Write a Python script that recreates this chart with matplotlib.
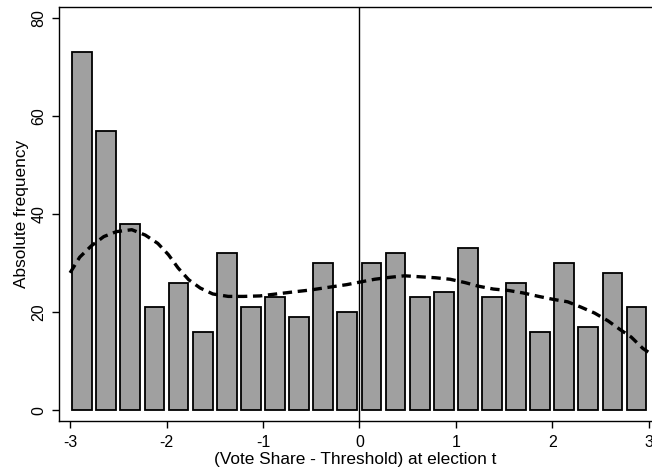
import numpy as np
import matplotlib
matplotlib.use("Agg")
import matplotlib.pyplot as plt

plt.rcParams['font.family'] = ['Liberation Sans', 'DejaVu Sans']
plt.rcParams['axes.unicode_minus'] = False

# histogram bins (width 0.25) and counts
bin_left = [-3.0, -2.75, -2.5, -2.25, -2.0, -1.75, -1.5, -1.25, -1.0, -0.75, -0.5, -0.25,
            0.0, 0.25, 0.5, 0.75, 1.0, 1.25, 1.5, 1.75, 2.0, 2.25, 2.5, 2.75]
counts = [73, 57, 38, 21, 26, 16, 32, 21, 23, 19, 30, 20,
          30, 32, 23, 24, 33, 23, 26, 16, 30, 17, 28, 21]

# kernel density (scaled to frequency)
kde_x = [-3.0, -2.9, -2.78, -2.65, -2.52, -2.36, -2.22, -2.09, -1.98, -1.88, -1.77, -1.65,
         -1.52, -1.36, -1.2, -1.03, -0.86, -0.69, -0.51, -0.34, -0.13, 0.0, 0.16, 0.32,
         0.47, 0.63, 0.79, 0.94, 1.1, 1.23, 1.39, 1.55, 1.7, 1.86, 2.01, 2.16, 2.3, 2.44,
         2.58, 2.7, 2.82, 2.94, 3.0]
kde_y = [28.0, 31.2, 33.5, 35.4, 36.4, 36.8, 35.7, 34.0, 31.7, 29.0, 26.6, 24.9,
         23.7, 23.2, 23.2, 23.3, 23.7, 24.1, 24.5, 25.0, 25.6, 26.1, 26.7, 27.1,
         27.4, 27.2, 27.0, 26.7, 26.0, 25.3, 24.7, 24.4, 23.9, 23.2, 22.6, 22.1, 21.0, 19.8,
         18.2, 16.5, 14.9, 12.6, 11.8]

fig = plt.figure(figsize=(6.52, 4.71), dpi=100)
ax = fig.add_axes([59 / 652, 50 / 471, 593 / 652, 414 / 471])

centers = np.array(bin_left) + 0.125
ax.bar(centers, counts, width=0.205, color='#a0a0a0', edgecolor='black', linewidth=1.3, zorder=2)
ax.axvline(0, color='black', linewidth=1.0, zorder=3)
ax.plot(kde_x, kde_y, color='black', linewidth=2.4, dashes=(2.8, 1.7), zorder=4)

ax.set_xlim(-3.115, 3.035)
ax.set_ylim(-2.2, 82.2)
ax.set_xticks([-3, -2, -1, 0, 1, 2, 3])
ax.set_yticks([0, 20, 40, 60, 80])
ax.tick_params(axis='both', direction='out', length=5, width=1, labelsize=11.5, pad=4)
ax.tick_params(axis='x', pad=5)
for lbl in ax.get_yticklabels():
    lbl.set_rotation(90)
    lbl.set_va('center')
ax.set_xlabel("(Vote Share - Threshold) at election t", fontsize=12.4, labelpad=1.5)
ax.set_ylabel("Absolute frequency", fontsize=12.4, labelpad=1.5)
for s in ax.spines.values():
    s.set_linewidth(1.0)
ax.spines['right'].set_visible(False)

fig.savefig("out.png", dpi=100)
